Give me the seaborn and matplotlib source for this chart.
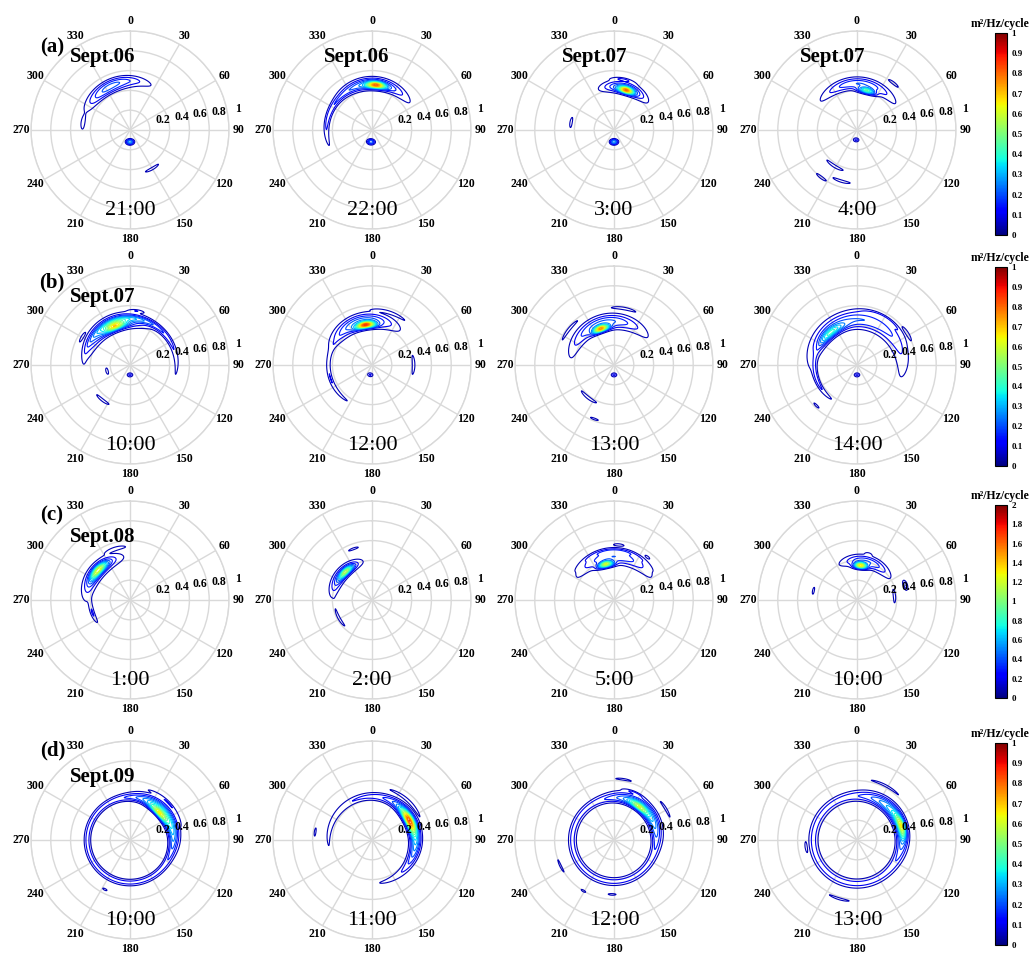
import numpy as np
import matplotlib
matplotlib.use("Agg")
import matplotlib.pyplot as plt
import seaborn as sns
from matplotlib.colors import Normalize
from matplotlib.cm import ScalarMappable

# ---------------- data ----------------
time_labels = ["21:00", "22:00", "3:00", "4:00",
               "10:00", "12:00", "13:00", "14:00",
               "1:00", "2:00", "5:00", "10:00",
               "10:00", "11:00", "12:00", "13:00"]
date_labels = {0: "Sept.06", 1: "Sept.06", 2: "Sept.07", 3: "Sept.07",
               4: "Sept.07", 8: "Sept.08", 12: "Sept.09"}
row_tags = ["(a)", "(b)", "(c)", "(d)"]
row_cbar_max = [1, 1, 2, 1]
angle_ticks = [0, 30, 60, 90, 120, 150, 180, 210, 240, 270, 300, 330]
angle_labels = ["0", "30", "60", "90", "120", "150", "180", "210", "240", "270", "300", "330"]
radial_ticks = [0.2, 0.4, 0.6, 0.8, 1.0]
radial_labels = ["0.2", "0.4", "0.6", "0.8", "1"]
cbar_title = "m²/Hz/cycle"

# spectral components (panel, direction deg, relative freq,
# directional spread deg, frequency spread, energy m^2/Hz/cycle)
comp_panel = [0, 0, 0, 0, 0,
              1, 1, 1, 1,
              2, 2, 2, 2, 2,
              3, 3, 3, 3, 3, 3, 3,
              4, 4, 4, 4, 4, 4, 4, 4,
              5, 5, 5, 5, 5, 5,
              6, 6, 6, 6, 6, 6, 6,
              7, 7, 7, 7, 7, 7, 7,
              8, 8, 8, 8,
              9, 9, 9, 9,
              10, 10, 10, 10, 10,
              11, 11, 11, 11, 11, 11,
              12, 12, 12, 12, 12,
              13, 13, 13, 13, 13,
              14, 14, 14, 14, 14, 14, 14, 14, 14,
              15, 15, 15, 15, 15, 15]
comp_dir = [340, 330, 278, 180, 150,
            0, 5, 290, 185,
            15, 17, 10, 280, 180,
            2, 14, 38, 212, 217, 197, 185,
            335, 20, 339, 7, 255, 218, 180, 300,
            345, 351, 250, 90, 20, 190,
            345, 340, 308, 10, 218, 200, 180,
            5, 320, 250, 58, 225, 180, 30,
            310, 313, 345, 250,
            310, 317, 240, 340,
            0, 347, 0, 38, 5,
            15, 6, 85, 73, 282, 14,
            0, 55, 47, 45, 207,
            35, 75, 62, 40, 278,
            0, 45, 37, 9, 23, 59, 244, 211, 182,
            0, 60, 73, 28, 262, 197]
comp_freq = [0.50, 0.45, 0.48, 0.12, 0.45,
             0.47, 0.455, 0.46, 0.12,
             0.44, 0.42, 0.52, 0.44, 0.12,
             0.47, 0.41, 0.60, 0.43, 0.60, 0.54, 0.10,
             0.45, 0.47, 0.42, 0.55, 0.24, 0.45, 0.10, 0.56,
             0.45, 0.41, 0.44, 0.42, 0.56, 0.10,
             0.44, 0.39, 0.58, 0.58, 0.42, 0.58, 0.10,
             0.46, 0.42, 0.43, 0.60, 0.58, 0.10, 0.55,
             0.44, 0.44, 0.54, 0.40,
             0.40, 0.39, 0.38, 0.55,
             0.44, 0.37, 0.50, 0.55, 0.56,
             0.40, 0.35, 0.38, 0.51, 0.45, 0.48,
             0.43, 0.45, 0.40, 0.54, 0.56,
             0.44, 0.44, 0.42, 0.54, 0.58,
             0.42, 0.45, 0.42, 0.62, 0.52, 0.61, 0.60, 0.60, 0.55,
             0.44, 0.47, 0.47, 0.62, 0.52, 0.62]
comp_dspread = [28, 20, 6, 12, 10,
                30, 8, 30, 12,
                20, 7, 10, 7, 12,
                32, 8, 6, 12, 6, 10, 12,
                30, 55, 10, 6, 8, 10, 12, 5,
                30, 9, 30, 12, 15, 12,
                38, 8, 12, 12, 12, 5, 12,
                60, 15, 25, 7, 4, 12, 18,
                25, 10, 10, 12,
                22, 9, 15, 6,
                35, 8, 30, 3, 5,
                25, 7, 10, 4, 5, 3,
                1e4, 30, 12, 20, 3,
                100, 30, 12, 20, 5,
                1e4, 30, 10, 9, 9, 9, 8, 3, 5,
                1e4, 30, 10, 15, 6, 10]
comp_fspread = [0.035, 0.03, 0.015, 0.018, 0.012,
                0.04, 0.02, 0.02, 0.018,
                0.04, 0.02, 0.012, 0.012, 0.018,
                0.04, 0.02, 0.012, 0.012, 0.012, 0.012, 0.015,
                0.05, 0.02, 0.025, 0.01, 0.012, 0.012, 0.015, 0.01,
                0.05, 0.02, 0.015, 0.012, 0.012, 0.015,
                0.05, 0.02, 0.012, 0.012, 0.012, 0.01, 0.015,
                0.06, 0.03, 0.015, 0.012, 0.01, 0.015, 0.015,
                0.05, 0.025, 0.015, 0.015,
                0.04, 0.02, 0.012, 0.01,
                0.05, 0.02, 0.015, 0.01, 0.01,
                0.04, 0.02, 0.012, 0.015, 0.01, 0.01,
                0.025, 0.04, 0.02, 0.012, 0.01,
                0.028, 0.04, 0.025, 0.012, 0.01,
                0.03, 0.04, 0.02, 0.01, 0.01, 0.01, 0.01, 0.01, 0.01,
                0.035, 0.04, 0.02, 0.01, 0.01, 0.01]
comp_energy = [0.18, 0.12, 0.08, 0.30, 0.08,
               0.25, 0.60, 0.12, 0.25,
               0.25, 0.60, 0.08, 0.08, 0.30,
               0.20, 0.40, 0.08, 0.09, 0.08, 0.08, 0.12,
               0.30, 0.15, 0.45, 0.08, 0.08, 0.08, 0.12, 0.07,
               0.25, 0.70, 0.10, 0.09, 0.08, 0.11,
               0.22, 0.65, 0.08, 0.08, 0.09, 0.07, 0.12,
               0.20, 0.30, 0.10, 0.08, 0.07, 0.12, 0.08,
               0.40, 0.90, 0.15, 0.20,
               0.40, 0.80, 0.15, 0.15,
               0.40, 1.10, 0.15, 0.13, 0.14,
               0.40, 1.20, 0.15, 0.30, 0.15, 0.13,
               0.12, 0.30, 0.45, 0.08, 0.07,
               0.12, 0.25, 0.55, 0.08, 0.07,
               0.12, 0.25, 0.30, 0.07, 0.08, 0.08, 0.07, 0.07, 0.07,
               0.12, 0.25, 0.35, 0.08, 0.07, 0.08]

# ---------------- style ----------------
sns.set_style("white")
plt.rcParams["font.family"] = ["Liberation Serif", "DejaVu Serif"]
plt.rcParams["text.color"] = "black"
plt.rcParams["ytick.color"] = "black"
plt.rcParams["ytick.labelcolor"] = "black"
cmap = matplotlib.colormaps["jet"]
grid_col = "#d9d9d9"

W, H = 1035, 956
fig = plt.figure(figsize=(W / 100, H / 100), dpi=100)

col_cx = [130, 372, 614, 857]
row_cy = [130, 365, 600, 840]
R = 99
sept_dx = [-27, -15, -19, -24]
sept_dy = [-73, -68, -63, -63]
tag_pos = [(52, 47), (52, 282), (52, 515), (53, 750)]
cbar_boxes = [(33, 235), (267, 466), (505, 698), (743, 945)]

th_deg = np.linspace(0, 360, 721)
rr = np.linspace(0, 1, 301)
TH, RR = np.meshgrid(th_deg, rr)

comp_panel_a = np.array(comp_panel)

for p in range(16):
    row, col = divmod(p, 4)
    cx, cy = col_cx[col], row_cy[row]
    ax = fig.add_axes([(cx - R) / W, 1 - (cy + R) / H, 2 * R / W, 2 * R / H],
                      projection="polar")
    ax.set_theta_zero_location("N")
    ax.set_theta_direction(-1)
    ax.set_ylim(0, 1)
    ax.set_thetagrids(angle_ticks, labels=[""] * len(angle_ticks))
    ax.set_rgrids(radial_ticks, labels=[""] * len(radial_ticks))
    ax.grid(True, color=grid_col, lw=1.0)
    ax.spines["polar"].set_color(grid_col)
    ax.spines["polar"].set_linewidth(1.0)
    ax.set_facecolor("none")

    vmax = row_cbar_max[row]
    Z = np.zeros_like(TH)
    for i in np.where(comp_panel_a == p)[0]:
        d = (TH - comp_dir[i] + 180) % 360 - 180
        Z += comp_energy[i] * np.exp(-0.5 * (d / comp_dspread[i]) ** 2) * \
            np.exp(-0.5 * ((RR - comp_freq[i]) / comp_fspread[i]) ** 2)
    step = 0.05 * vmax
    levels = np.arange(step, vmax + 1e-9, step)
    ax.contour(np.deg2rad(TH), RR, Z, levels=levels, cmap=cmap,
               norm=Normalize(0, vmax), linewidths=0.8)

    for a, lab in zip(angle_ticks, angle_labels):
        ax.text(np.deg2rad(a), 1.1, lab, ha="center", va="center", color="black",
                fontsize=8.5, fontweight="bold", clip_on=False)
    for v, lab in zip(radial_ticks, radial_labels):
        x = 0.14 + 0.95 * v
        y = 0.07 + 0.145 * v
        ax.text(np.arctan2(x, y), np.hypot(x, y), lab, ha="center", va="center",
                color="black", fontsize=8.5, fontweight="bold", clip_on=False)
    ax.text(np.pi, 0.81, time_labels[p], ha="center", va="center",
            color="black", fontsize=16, clip_on=False)
    if p in date_labels:
        fig.text((cx + sept_dx[col]) / W, 1 - (cy + sept_dy[row]) / H,
                 date_labels[p], ha="center", va="center", color="black",
                 fontsize=15, fontweight="bold")

for row in range(4):
    tx, ty = tag_pos[row]
    fig.text(tx / W, 1 - ty / H, row_tags[row], ha="center", va="center",
             color="black", fontsize=15, fontweight="bold")
    top, bot = cbar_boxes[row]
    cax = fig.add_axes([995 / W, 1 - bot / H, 12 / W, (bot - top) / H])
    vmax = row_cbar_max[row]
    sm = ScalarMappable(norm=Normalize(0, vmax), cmap=cmap)
    cb = fig.colorbar(sm, cax=cax)
    ticks = np.round(np.arange(0, vmax + 1e-9, 0.1 * vmax), 2)
    cb.set_ticks(ticks)
    cb.set_ticklabels([f"{t:g}" for t in ticks])
    cb.ax.tick_params(labelsize=6.5, length=2, width=0.5, direction="in", pad=3,
                      colors="black")
    for t in cb.ax.get_yticklabels():
        t.set_fontweight("bold")
    cb.outline.set_linewidth(0.8)
    cb.outline.set_edgecolor("black")
    fig.text(1000 / W, 1 - (top - 9) / H, cbar_title, ha="center", va="center",
             color="black", fontsize=8.5, fontweight="bold")

fig.savefig("out.png", dpi=100)
